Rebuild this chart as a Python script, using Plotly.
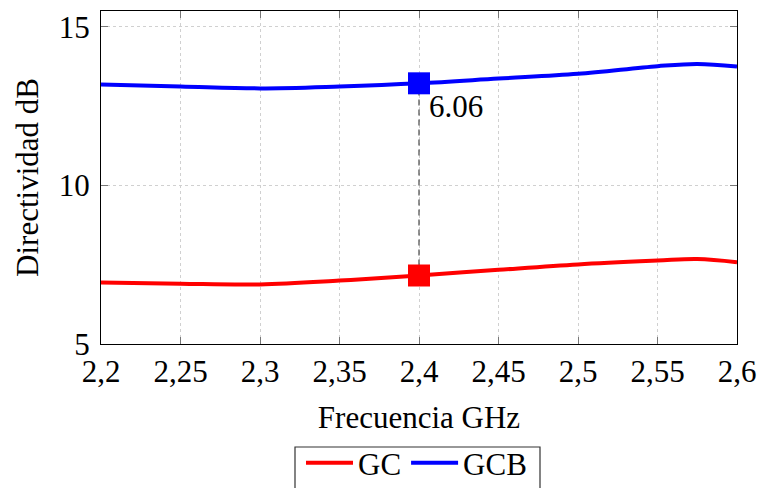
import plotly.graph_objects as go

freq = [2.2, 2.25, 2.3, 2.35, 2.4, 2.45, 2.5, 2.55, 2.575, 2.6]
gc = [6.94, 6.90, 6.88, 7.00, 7.16, 7.34, 7.51, 7.63, 7.68, 7.58]
gcb = [13.18, 13.12, 13.06, 13.12, 13.22, 13.37, 13.52, 13.76, 13.83, 13.75]
x_ticks = [2.2, 2.25, 2.3, 2.35, 2.4, 2.45, 2.5, 2.55, 2.6]
x_labels = ["2,2", "2,25", "2,3", "2,35", "2,4", "2,45", "2,5", "2,55", "2,6"]
y_ticks = [5, 10, 15]
mark_x = 2.4
mark_gc = 7.16
mark_gcb = 13.22
diff_label = "6.06"

font = "Liberation Serif"
W, H = 760, 488
L, R, T, B = 101, 23, 11, 144
pw, ph = W - L - R, H - T - B

fig = go.Figure()
fig.add_trace(go.Scatter(x=[mark_x, mark_x], y=[mark_gc, mark_gcb], mode="lines",
                         line=dict(color="#555555", width=1.3, dash="6px,4px"), showlegend=False))
fig.add_trace(go.Scatter(x=freq, y=gc, mode="lines", name="GC",
                         line=dict(color="#ff0000", width=4, shape="spline")))
fig.add_trace(go.Scatter(x=freq, y=gcb, mode="lines", name="GCB",
                         line=dict(color="#0000ff", width=4, shape="spline")))
fig.add_trace(go.Scatter(x=[mark_x], y=[mark_gc], mode="markers", showlegend=False,
                         marker=dict(symbol="square", size=22, color="#ff0000")))
fig.add_trace(go.Scatter(x=[mark_x], y=[mark_gcb], mode="markers", showlegend=False,
                         marker=dict(symbol="square", size=22, color="#0000ff")))
fig.add_annotation(x=mark_x, y=mark_gcb, text=diff_label, showarrow=False,
                   xanchor="left", yanchor="middle", xshift=8, yshift=-23,
                   font=dict(family=font, size=31, color="black"))

# legend frame (decoration)
fig.add_shape(type="rect", xref="paper", yref="paper",
              x0=(295 - L) / pw, x1=(540 - L) / pw,
              y0=(T + ph - 492) / ph, y1=(T + ph - 447) / ph,
              line=dict(color="#333333", width=1.2), fillcolor="rgba(0,0,0,0)", layer="above")

axis_common = dict(showline=True, linecolor="black", linewidth=1.2, mirror="ticks",
                   ticks="inside", ticklen=7, tickcolor="#777777",
                   showgrid=True, gridcolor="#d0d0d0", griddash="dot", gridwidth=1,
                   zeroline=False, tickfont=dict(family=font, size=31, color="black"))
fig.update_xaxes(range=[2.2, 2.6], tickvals=x_ticks, ticktext=x_labels,
                 title=dict(text="Frecuencia GHz", font=dict(family=font, size=31, color="black"), standoff=18),
                 **axis_common)
fig.update_yaxes(range=[5, 15.5], tickvals=y_ticks, ticklabelstandoff=4,
                 title=dict(text="Directividad dB", font=dict(family=font, size=31, color="black"), standoff=10),
                 **axis_common)
fig.update_layout(width=W, height=H, plot_bgcolor="white", paper_bgcolor="white",
                  margin=dict(l=L, r=R, t=T, b=B, autoexpand=False),
                  legend=dict(orientation="h", x=301 / W, xanchor="left", xref="container",
                              y=(H - 436) / H, yanchor="top", yref="container",
                              borderwidth=0, bgcolor="rgba(0,0,0,0)",
                              itemwidth=47,
                              font=dict(family=font, size=31, color="black")),
                  font=dict(family=font))
fig.write_html("out.html")
